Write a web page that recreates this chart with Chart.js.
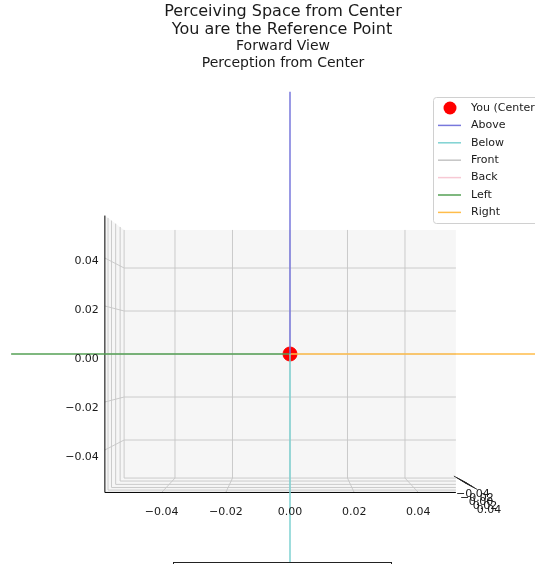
<!DOCTYPE html>
<html><head><meta charset="utf-8">
<script src="https://cdn.jsdelivr.net/npm/chart.js@4.4.0/dist/chart.umd.min.js"></script>
<style>html,body{margin:0;padding:0;background:#fff;overflow:hidden}#wrap{width:535px;height:564px;position:relative}</style>
</head><body><div id="wrap"><canvas id="c" width="535" height="564"></canvas></div>
<script>
// ---- data ----
const titleLines = ["Perceiving Space from Center", "You are the Reference Point"];
const subtitleLines = ["Forward View", "Perception from Center"];
const seriesNames = ["You (Center)", "Above", "Below", "Front", "Back", "Left", "Right"];
const centerX = [0];
const centerY = [0];
const aboveX = [0, 0];      const aboveY = [0, 0.122];
const belowX = [0, 0];      const belowY = [0, -0.12];
const frontX = [0, 0];      const frontY = [0, 0];   // along depth: projects onto the centre
const backX = [0, 0];       const backY = [0, 0];    // along depth: projects onto the centre
const leftX = [0, -0.097];  const leftY = [0, 0];
const rightX = [0, 0.097];  const rightY = [0, 0];
const tickValues = [-0.04, -0.02, 0, 0.02, 0.04];
const tickLabels = ["\u22120.04", "\u22120.02", "0.00", "0.02", "0.04"];
const depthTickLabels = ["\u22120.04", "\u22120.02", "0.00", "0.02", "0.04"];
const axisLimit = 0.0577;

// ---- styles ----
const colors = {
  center: "#ff0000", above: "#7878dc", below: "#7fd2d2", front: "#c4c4c4",
  back: "#f7c9d4", left: "#55a055", right: "#ffbd4a"
};
const paneFill = "#f6f6f6";
const gridColor = "#c6c6c6";
const depthLayers = [1, 1.024, 1.051, 1.076, 1.097, 1.116]; // perspective factors of the depth grid
const FONT = "'DejaVu Sans', sans-serif";

function pts(xs, ys) { return xs.map((x, i) => ({ x: x, y: ys[i] })); }
function lineDs(label, xs, ys, color) {
  return { label, data: pts(xs, ys), showLine: true, borderColor: color, backgroundColor: color,
    borderWidth: 1.5, pointRadius: 0, pointHoverRadius: 0, order: 0, clip: false };
}

const datasets = [
  { label: seriesNames[0], data: pts(centerX, centerY), backgroundColor: colors.center,
    borderColor: colors.center, pointRadius: 7, pointStyle: "circle", showLine: false, order: 1, clip: false },
  lineDs(seriesNames[1], aboveX, aboveY, colors.above),
  lineDs(seriesNames[2], belowX, belowY, colors.below),
  lineDs(seriesNames[3], frontX, frontY, colors.front),
  lineDs(seriesNames[4], backX, backY, colors.back),
  lineDs(seriesNames[5], leftX, leftY, colors.left),
  lineDs(seriesNames[6], rightX, rightY, colors.right)
];

function geom(chart) {
  const xs = chart.scales.x, ys = chart.scales.y;
  const cx = xs.getPixelForValue(0), cy = ys.getPixelForValue(0);
  const hw = xs.getPixelForValue(axisLimit) - cx;
  const hh = cy - ys.getPixelForValue(axisLimit);
  return { xs, ys, cx, cy, hw, hh, kF: depthLayers[depthLayers.length - 1] };
}
function seg(ctx, x1, y1, x2, y2) { ctx.beginPath(); ctx.moveTo(x1, y1); ctx.lineTo(x2, y2); ctx.stroke(); }

const panePlugin = {
  id: "pane3d",
  beforeDatasetsDraw(chart) {
    const ctx = chart.ctx; const g = geom(chart);
    const { cx, cy, hw, hh, kF, xs, ys } = g;
    ctx.save();
    // panes
    ctx.fillStyle = paneFill;
    ctx.fillRect(cx - hw, cy - hh, 2 * hw, 2 * hh);
    ctx.beginPath();
    ctx.moveTo(cx - hw * kF, cy - hh * kF); ctx.lineTo(cx - hw, cy - hh);
    ctx.lineTo(cx - hw, cy + hh); ctx.lineTo(cx - hw * kF, cy + hh * kF); ctx.closePath(); ctx.fill();
    ctx.beginPath();
    ctx.moveTo(cx - hw * kF, cy + hh * kF); ctx.lineTo(cx - hw, cy + hh);
    ctx.lineTo(cx + hw, cy + hh); ctx.lineTo(cx + hw, cy + hh * kF); ctx.closePath(); ctx.fill();

    ctx.strokeStyle = gridColor; ctx.lineWidth = 0.9;
    // back pane grid
    tickValues.forEach(v => {
      const px = xs.getPixelForValue(v), py = ys.getPixelForValue(v);
      seg(ctx, px, cy - hh, px, cy + hh);
      seg(ctx, cx - hw, py, cx + hw, py);
      // bottom pane grid (x)
      seg(ctx, px, cy + hh, cx + (px - cx) * kF, cy + hh * kF);
      // left pane grid (z)
      seg(ctx, cx - hw, py, cx - hw * kF, cy + (py - cy) * kF);
    });
    // depth grid lines on left and bottom panes
    depthLayers.slice(0, depthLayers.length - 1).forEach(k => {
      seg(ctx, cx - hw * k, cy - hh * k, cx - hw * k, cy + hh * k);
      seg(ctx, cx - hw * k, cy + hh * k, cx + hw, cy + hh * k);
    });
    // axis lines
    ctx.strokeStyle = "#000"; ctx.lineWidth = 1;
    seg(ctx, cx - hw * kF, cy - hh * kF, cx - hw * kF, cy + hh * kF);
    seg(ctx, cx - hw * kF, cy + hh * kF, cx + hw, cy + hh * kF);
    // depth-axis tick marks
    ctx.strokeStyle = "#222"; ctx.lineWidth = 0.9;
    depthTickLabels.forEach((t, i) => {
      const sx = cx + hw - 2 + i * 2.6, sy = cy + hh - 2 + i * 1.6;
      seg(ctx, sx, sy, sx + 13, sy + 7);
    });
    ctx.restore();
  },
  afterDraw(chart) {
    const ctx = chart.ctx; const g = geom(chart);
    const { cx, cy, hw, hh, kF, xs, ys } = g;
    ctx.save();
    ctx.fillStyle = "#1a1a1a";
    ctx.font = "11px " + FONT;
    ctx.textBaseline = "middle";
    // x tick labels
    ctx.textAlign = "center";
    tickValues.forEach((v, i) => {
      const px = cx + (xs.getPixelForValue(v) - cx) * kF;
      ctx.fillText(tickLabels[i], px, cy + hh * kF + 20);
    });
    // z tick labels
    ctx.textAlign = "right";
    tickValues.forEach((v, i) => {
      const py = cy + (ys.getPixelForValue(v) - cy) * kF * 1.02;
      ctx.fillText(tickLabels[i], cx - hw * kF - 6, py + 5.5);
    });
    // depth tick labels (overlapping)
    ctx.textAlign = "center";
    depthTickLabels.forEach((t, i) => {
      ctx.fillText(t, cx + hw + 17 + i * 4, cy + hh + 16 + i * 4);
    });

    // titles
    ctx.fillStyle = "#1a1a1a";
    ctx.font = "16px " + FONT;
    ctx.fillText(titleLines[0], 283, 12);
    ctx.fillText(titleLines[1], 282, 30);
    ctx.font = "14px " + FONT;
    ctx.fillText(subtitleLines[0], 283, 46);
    ctx.fillText(subtitleLines[1], 283, 63);

    // legend
    const lx = 433, ly = 97, lw = 112, lh = 126;
    ctx.fillStyle = "rgba(255,255,255,0.85)";
    ctx.strokeStyle = "#d0d0d0"; ctx.lineWidth = 1;
    ctx.beginPath();
    if (ctx.roundRect) ctx.roundRect(lx + 0.5, ly + 0.5, lw, lh, 3); else ctx.rect(lx + 0.5, ly + 0.5, lw, lh);
    ctx.fill(); ctx.stroke();
    const rowY = i => 108 + i * 17.4;
    chart.data.datasets.forEach((ds, i) => {
      const y = rowY(i);
      if (i === 0) {
        ctx.fillStyle = ds.backgroundColor;
        ctx.beginPath(); ctx.arc(450, y, 6.5, 0, Math.PI * 2); ctx.fill();
      } else {
        ctx.strokeStyle = ds.borderColor; ctx.lineWidth = 1.5;
        seg(ctx, 438, y, 461, y);
      }
      ctx.fillStyle = "#1a1a1a"; ctx.font = "11px " + FONT; ctx.textAlign = "left";
      ctx.fillText(ds.label, 471, y);
    });

    // partially visible caption box at the bottom
    ctx.fillStyle = "#fff"; ctx.strokeStyle = "#222"; ctx.lineWidth = 1;
    ctx.fillRect(173, 562, 219, 20);
    ctx.strokeRect(173.5, 562.5, 218, 20);
    ctx.restore();
  }
};

new Chart(document.getElementById("c"), {
  type: "scatter",
  data: { datasets },
  options: {
    responsive: false, animation: false, devicePixelRatio: 1,
    layout: { padding: 0, autoPadding: false },
    plugins: { legend: { display: false }, title: { display: false }, tooltip: { enabled: false } },
    scales: {
      x: { type: "linear", min: -0.10087, max: 0.08522, display: false },
      y: { type: "linear", min: -0.09767, max: 0.16465, display: false }
    }
  },
  plugins: [panePlugin]
});
</script>
</body></html>
